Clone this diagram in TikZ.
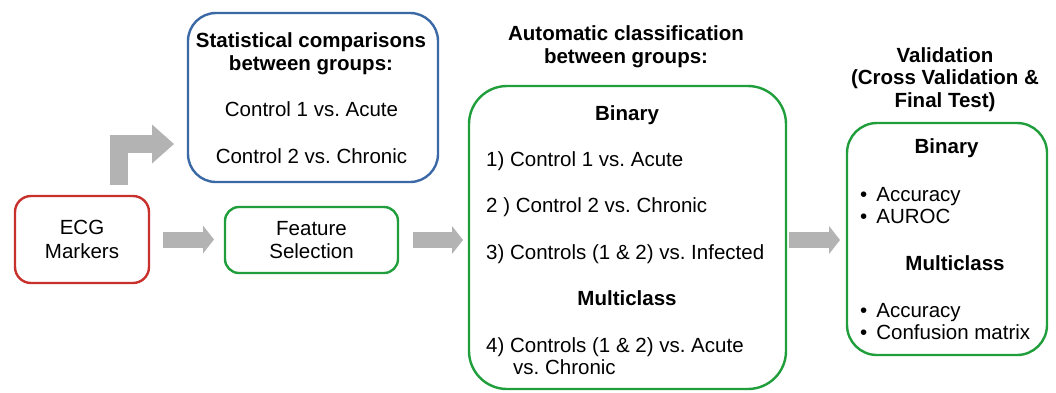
\documentclass[tikz,border=0pt]{standalone}
\usepackage{fontspec}
\setmainfont{Liberation Sans}
\usetikzlibrary{arrows.meta}
\definecolor{ecgred}{HTML}{C8302C}
\definecolor{statblue}{HTML}{3A69A6}
\definecolor{boxgreen}{HTML}{1F9E3B}
\definecolor{arrowgray}{HTML}{B3B3B3}
\frenchspacing
\begin{document}
\begin{tikzpicture}[x=1pt,y=-1pt,line join=round,
  font=\fontsize{20.5}{23.5}\selectfont,
  box/.style={draw,line width=2.4pt,inner sep=0pt,outer sep=0pt},
  txt/.style={inner sep=0pt,anchor=base},
  ltxt/.style={inner sep=0pt,anchor=base west},
  head/.style={txt,font=\fontsize{20.5}{23.5}\selectfont\bfseries},
  blockarrow/.style={color=arrowgray,line width=16pt,line cap=butt,
    -{Triangle[width=28pt,length=11pt,line width=0pt]}},
  bentarrow/.style={color=arrowgray,line width=18pt,line cap=butt,line join=miter,
    -{Triangle[width=39pt,length=22pt,line width=0pt]}}]
  \useasboundingbox (0,0) rectangle (1056,392);
  % boxes
  \node[box,draw=ecgred,rounded corners=16pt,minimum width=134pt,minimum height=87pt,align=center] (ecg) at (82,239.5) {ECG\\Markers};
  \node[box,draw=boxgreen,rounded corners=14pt,minimum width=173pt,minimum height=66pt,align=center] (feat) at (311.5,240) {Feature\\Selection};
  \node[box,draw=statblue,rounded corners=28pt,minimum width=250pt,minimum height=169pt] (stat) at (313,97.5) {};
  \node[box,draw=boxgreen,rounded corners=38pt,minimum width=317pt,minimum height=303pt] (clf) at (627.5,237.5) {};
  \node[box,draw=boxgreen,rounded corners=30pt,minimum width=200pt,minimum height=232pt] (val) at (947,239) {};
  % statistics
  \node[head] (stat1) at (311,47) {Statistical comparisons};
  \node[head] (stat2) at (311,70) {between groups:};
  \node[txt] (cmp1) at (311.5,116) {Control 1 vs. Acute};
  \node[txt] (cmp2) at (311.5,163) {Control 2 vs. Chronic};
  % classification
  \node[head] (clf1) at (626,40) {Automatic classification};
  \node[head] (clf2) at (626,63) {between groups:};
  \node[head] (bin) at (627,120) {Binary};
  \node[ltxt] (task1) at (486,166) {1) Control 1 vs. Acute};
  \node[ltxt] (task2) at (486,212.5) {2 ) Control 2 vs. Chronic};
  \node[ltxt] (task3) at (486,259) {3) Controls (1 \& 2) vs. Infected};
  \node[head] (multi) at (627,305.5) {Multiclass};
  \node[ltxt] (task4) at (486,352) {4) Controls (1 \& 2) vs. Acute};
  \node[ltxt] (task4b) at (513,374) {vs. Chronic};
  % validation
  \node[head] (val1) at (945,62) {Validation};
  \node[head] (val2) at (945,84.5) {(Cross Validation \&};
  \node[head] (val3) at (945,107) {Final Test)};
  \node[head] (vbin) at (946.5,153) {Binary};
  \node[ltxt] (acc1) at (860,201) {•\hspace{9pt}Accuracy};
  \node[ltxt] (auroc) at (860,223) {•\hspace{9pt}AUROC};
  \node[head] (vmulti) at (955,270) {Multiclass};
  \node[ltxt] (acc2) at (860,317) {•\hspace{9pt}Accuracy};
  \node[ltxt] (conf) at (860,339) {•\hspace{9pt}Confusion matrix};
  % arrows
  \draw[blockarrow,shorten <=14pt,shorten >=11pt] (ecg.east) -- (ecg.east -| feat.west);
  \draw[blockarrow,shorten <=15pt,shorten >=6pt] (feat.east) -- (clf.west |- feat.east);
  \draw[blockarrow,shorten <=3pt,shorten >=7pt] (clf.east |- feat.east) -- (val.west |- feat.east);
  \coordinate (bend) at (119,144);
  \draw[bentarrow,shorten <=11pt,shorten >=14pt] (bend |- ecg.north) -- (bend) -- (bend -| stat.west);
\end{tikzpicture}
\end{document}
